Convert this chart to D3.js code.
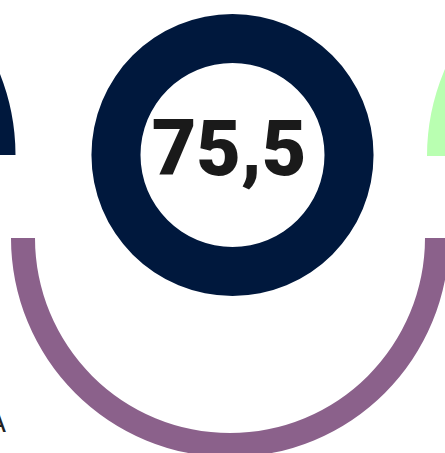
<!DOCTYPE html>
<html>
<head>
<meta charset="utf-8">
<script src="https://cdn.jsdelivr.net/npm/d3@7"></script>
<style>
  html, body { margin: 0; padding: 0; background: #ffffff; }
  svg { display: block; }
</style>
</head>
<body>
<svg id="chart" width="445" height="453"></svg>
<script>
// ---- data ----
const mainValue = [75.5];
const mainLabel = ["75,5"];
const mainShare = [100];            // full ring
const gaugeNames = ["left", "bottom", "right"];
const gaugeShare = [100, 100, 100]; // each half-ring drawn completely
const sideLabel = ["A"];

// ---- layout ----
const svg = d3.select("#chart");
const fullAngle = d3.scaleLinear().domain([0, 100]).range([0, 2 * Math.PI]);
const halfAngle = d3.scaleLinear().domain([0, 100]).range([0, Math.PI]);

const colors = { left: "#00183d", bottom: "#8b618b", right: "#b9ffb1" };
const gaugeGeom = {
  left:   { cx: -203.5, cy: 155, start: -Math.PI / 2 },
  bottom: { cx: 230,    cy: 238, start:  Math.PI / 2 },
  right:  { cx: 646,    cy: 156, start: -Math.PI / 2 }
};
const gaugeArc = d3.arc().innerRadius(195).outerRadius(219);

gaugeNames.forEach((name, i) => {
  const g = gaugeGeom[name];
  svg.append("path")
    .attr("transform", `translate(${g.cx},${g.cy})`)
    .attr("fill", colors[name])
    .attr("d", gaugeArc({ startAngle: g.start, endAngle: g.start + halfAngle(gaugeShare[i]) }));
});

// main donut
const mainArc = d3.arc().innerRadius(92).outerRadius(141);
const main = svg.append("g").attr("transform", "translate(232.5,155)");
main.append("path")
  .attr("fill", "#00183d")
  .attr("d", mainArc({ startAngle: 0, endAngle: fullAngle(mainShare[0]) }));

main.append("text")
  .attr("x", -3.5)
  .attr("y", 20)
  .attr("text-anchor", "middle")
  .attr("font-family", "Roboto, 'Open Sans', sans-serif")
  .attr("font-weight", 900)
  .attr("font-size", 77)
  .attr("fill", "#1a1a1a")
  .text(mainLabel[0]);

svg.append("text")
  .attr("x", 6)
  .attr("y", 432)
  .attr("text-anchor", "end")
  .attr("font-family", "'DejaVu Sans', sans-serif")
  .attr("font-size", 26)
  .attr("fill", "#222")
  .text(sideLabel[0]);
</script>
</body>
</html>
